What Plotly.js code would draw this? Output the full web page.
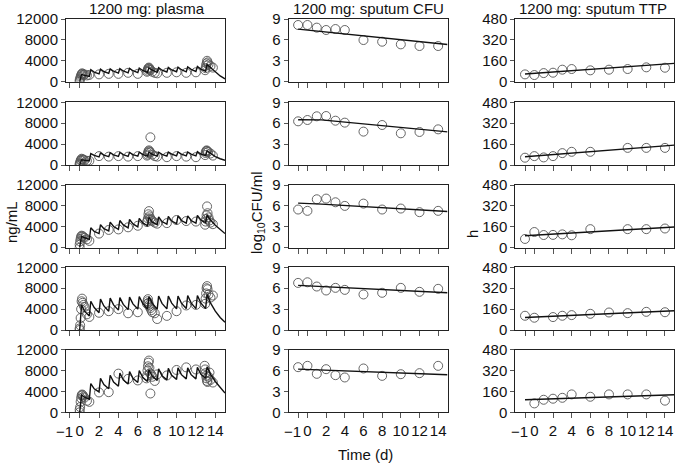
<!DOCTYPE html>
<html><head><meta charset="utf-8">
<script src="https://cdn.plot.ly/plotly-3.0.1.min.js"></script>
<style>html,body{margin:0;padding:0;background:#fff}#chart{width:675px;height:464px}</style>
</head><body><div id="chart"></div>
<script>
// ---------- DATA ----------
const colTitles = ["1200 mg: plasma", "1200 mg: sputum CFU", "1200 mg: sputum TTP"];
const xTickVals = [-1, 0, 2, 4, 6, 8, 10, 12, 14];
const xTickText = ["", "0", "2", "4", "6", "8", "10", "12", "14"];
const xFirstTickLabel = "\u22121";

// plasma model line (time, d)
const plasmaLineT = [0,0.2,0.5, 1,1.15,1.5, 2,2.15,2.5, 3,3.15,3.5, 4,4.15,4.5, 5,5.15,5.5, 6,6.15,6.5, 7,7.15,7.5, 8,8.15,8.5, 9,9.15,9.5, 10,10.15,10.5, 11,11.15,11.5, 12,12.15,12.5, 13,13.15,13.5, 14,14.5,15];
const plasmaLine1 = [0,1400,1200, 1000,2300,1850, 1500,2400,1950, 1600,2450,2000, 1650,2500,2050, 1700,2550,2100, 1750,2600,2150, 1800,2650,2200, 1800,2700,2200, 1850,2750,2250, 1900,2800,2300, 1900,2850,2350, 1950,2900,2400, 2000,3300,2700, 1800,1100,550];
const plasmaLine2 = [0,1000,900, 800,2200,1850, 1550,2300,1900, 1600,2350,1950, 1650,2400,2000, 1650,2400,2000, 1700,2450,2050, 1700,2450,2050, 1700,2450,2050, 1700,2500,2100, 1750,2500,2100, 1750,2500,2100, 1750,2550,2100, 1800,2700,2250, 1600,1200,900];
const plasmaLine3 = [0,2200,1900, 1600,3800,3100, 2700,4400,3650, 3200,4900,4050, 3500,5200,4350, 3800,5400,4550, 4000,5600,4750, 4200,5800,4900, 4400,5900,5000, 4500,6000,5100, 4600,6100,5200, 4700,6100,5200, 4700,6200,5300, 4800,6300,5300, 4300,3400,2700];
const plasmaLine4 = [0,4800,3600, 2700,5500,4300, 3300,5900,4600, 3600,6100,4800, 3800,6200,4900, 3900,6300,5000, 4000,6400,5100, 4000,6400,5100, 4000,6500,5100, 4050,6500,5150, 4050,6500,5150, 4100,6600,5200, 4100,6600,5200, 4100,6800,5200, 3600,2400,1500];
const plasmaLine5 = [0,3300,2900, 2500,5500,4500, 3900,6500,5300, 4500,7100,5800, 5000,7500,6200, 5400,7800,6500, 5700,8000,6700, 5900,8200,6900, 6100,8300,7000, 6200,8400,7100, 6300,8500,7200, 6400,8500,7200, 6400,8600,7300, 6500,8700,7300, 5900,4700,3700];

// plasma observations
const plasmaObsT1 = [0,0,0.05,0.1,0.15,0.2,0.25,0.3,0.4,0.5,0.75, 1,2,3,4,5,6, 6.95,7,7.05,7.1,7.15,7.2,7.25,7.3,7.5,7.75, 8,9,10,11,12, 12.95,13,13.05,13.1,13.15,13.2,13.3,13.5,13.75];
const plasmaObs1  = [0,300,600,900,1200,1400,1600,1500,1300,1400,1200, 1300,1400,1500,1500,1700,1500, 1900,2100,2400,2600,2700,2500,2300,2200,1900,1700, 1600,1700,1800,1700,1800, 2200,2600,3100,3500,4000,3700,3300,3000,2700];
const plasmaObsT2 = [0,0,0.05,0.1,0.15,0.2,0.3,0.4,0.5,0.75, 1,2,3,4,5,6, 6.95,7,7.05,7.1,7.15,7.2,7.3,7.3,7.5,7.75, 8,9,10,11,12, 12.95,13,13.05,13.1,13.15,13.25,13.5,13.75];
const plasmaObs2  = [0,200,500,800,1000,1200,1100,1000,900,800, 800,1700,1600,1700,1600,1700, 1800,2000,2300,2600,2800,2600,2400,5300,2000,1700, 1600,1500,1700,1600,1500, 1900,2300,2600,2800,2700,2500,2200,1800];
const plasmaObsT3 = [0,0,0.05,0.1,0.15,0.2,0.3,0.4,0.5,0.75, 1,2,3,4,5,6, 6.95,7,7.05,7.1,7.15,7.2,7.3,7.4,7.5,7.75, 8,9,10,11,12, 12.95,13,13.05,13.1,13.15,13.2,13.3,13.4,13.5,13.75];
const plasmaObs3  = [0,600,1200,1700,2100,2300,2200,2000,1900,1600, 1300,2700,3400,3500,3900,4200, 4900,5200,5600,6400,7000,6000,5600,5300,5100,4800, 4600,4700,5300,5100,5000, 4400,5000,5500,6200,7900,6600,5800,5200,4800,4500];
const plasmaObsT4 = [0,0,0.05,0.1,0.15,0.2,0.25,0.3,0.4,0.5,0.75, 1,2,3,4,5,6, 6.95,7,7.05,7.1,7.15,7.2,7.3,7.4,7.5,7.75, 8,9,10,11,12, 12.95,13,13.05,13.1,13.15,13.2,13.3,13.5,13.75];
const plasmaObs4  = [0,300,900,2300,4000,5500,6000,5200,4800,4400,3000, 2500,3300,3600,4000,3200,3400, 5000,5500,5900,5200,4800,4500,4200,3800,3400,3200, 2100,2700,3600,4700,4800, 5000,6000,7000,8000,8400,7800,6800,6200,6600];
const plasmaObsT5 = [0,0,0.05,0.1,0.15,0.2,0.25,0.3,0.4,0.5,0.75, 1,2,3,4,5,6, 6.9,6.95,7,7.05,7.1,7.15,7.2,7.25,7.3,7.4,7.5,7.75, 8,9,10,11,12, 12.9,12.95,13,13.05,13.1,13.15,13.2,13.3,13.4,13.5,13.75];
const plasmaObs5  = [0,500,1000,2000,2700,3200,3400,3300,3000,2800,2200, 2000,3800,3850,7400,6400,6100, 6500,7000,8000,8800,9500,9900,8500,7500,3600,7200,6800,6000, 7250,7050,8100,8600,8200, 8900,8200,7500,7000,6500,6000,5800,6800,7600,6200,5700];

// sputum CFU (log10 CFU/ml)
const cfuT = [-1,0,1,2,3,4,6,8,10,12,14];
const cfuObs1 = [8.14,8.14,7.76,7.42,7.56,7.42,5.98,5.74,5.36,5.12,5.12];
const cfuObs2 = [6.27,6.46,6.99,7.03,6.36,6.08,4.79,5.74,4.55,4.74,5.12];
const cfuObs3 = [5.48,5.29,6.95,7.05,6.52,6.00,6.33,5.48,5.62,5.10,5.29];
const cfuObs4 = [6.76,6.85,6.24,5.67,6.05,5.76,5.10,5.34,6.05,5.48,5.91];
const cfuObs5 = [6.48,6.67,5.52,6.19,5.33,5.00,6.29,5.23,5.47,5.62,6.67];
const cfuLineT = [-1, 1.5, 15];
const cfuLine1 = [7.55, 7.22, 5.35];
const cfuLine2 = [6.50, 6.48, 4.75];
const cfuLine3 = [6.40, 6.25, 5.20];
const cfuLine4 = [6.40, 6.22, 5.35];
const cfuLine5 = [6.20, 6.08, 5.40];

// sputum TTP (h)
const ttpT1 = [-1,0,1,2,3,4,6,8,10,12,14];
const ttpObs1 = [56,51,66,69,92,97,87,92,97,110,107];
const ttpT2 = [-1,0,1,2,3,4,6,10,12,14];
const ttpObs2 = [56,68,58,68,91,101,101,131,131,131];
const ttpT3 = [-1,0,1,2,3,4,6,10,12,14];
const ttpObs3 = [67,120,97,98,102,95,142,142,142,147];
const ttpT4 = [-1,0,2,3,4,6,8,10,12,14];
const ttpObs4 = [109,94,99,109,114,124,134,129,139,136];
const ttpT5 = [0,1,2,3,4,6,8,10,12,14];
const ttpObs5 = [68,96,104,111,137,119,137,137,137,89];
const ttpLineT = [-1, 15];
const ttpLine1 = [59, 140];
const ttpLine2 = [63, 152];
const ttpLine3 = [91, 158];
const ttpLine4 = [96, 147];
const ttpLine5 = [96, 134];

// ---------- LAYOUT ----------
const W = 675, H = 464;
const FONT = "Liberation Sans, Arial, Helvetica, sans-serif";
const colPx = [[66,225],[288.5,447.5],[515.3,674.3]];
const rowPx = [[19,81.7],[102.3,165],[185,247.7],[267.3,330],[349.6,412.3]];
const xRanges = [[-1.41,15],[-2.03,15],[-2.04,15]];
const yRanges = [[0,12000],[0,9],[0,480]];
const yTicks = [[0,4000,8000,12000],[0,3,6,9],[0,160,320,480]];

const panels = [
  [[plasmaObsT1,plasmaObs1,plasmaLineT,plasmaLine1],[cfuT,cfuObs1,cfuLineT,cfuLine1],[ttpT1,ttpObs1,ttpLineT,ttpLine1]],
  [[plasmaObsT2,plasmaObs2,plasmaLineT,plasmaLine2],[cfuT,cfuObs2,cfuLineT,cfuLine2],[ttpT2,ttpObs2,ttpLineT,ttpLine2]],
  [[plasmaObsT3,plasmaObs3,plasmaLineT,plasmaLine3],[cfuT,cfuObs3,cfuLineT,cfuLine3],[ttpT3,ttpObs3,ttpLineT,ttpLine3]],
  [[plasmaObsT4,plasmaObs4,plasmaLineT,plasmaLine4],[cfuT,cfuObs4,cfuLineT,cfuLine4],[ttpT4,ttpObs4,ttpLineT,ttpLine4]],
  [[plasmaObsT5,plasmaObs5,plasmaLineT,plasmaLine5],[cfuT,cfuObs5,cfuLineT,cfuLine5],[ttpT5,ttpObs5,ttpLineT,ttpLine5]]
];

const traces = [];
const layout = {
  width: W, height: H, margin: {l:0,r:0,t:0,b:0},
  paper_bgcolor: "#fff", plot_bgcolor: "#fff",
  showlegend: false, font: {family: FONT, size: 15, color: "#111"},
  annotations: []
};

for (let r = 0; r < 5; r++) {
  for (let c = 0; c < 3; c++) {
    const k = r*3 + c + 1;
    const xa = k === 1 ? "x" : "x" + k, ya = k === 1 ? "y" : "y" + k;
    const p = panels[r][c];
    traces.push({x: p[0], y: p[1], xaxis: xa, yaxis: ya, type: "scatter", mode: "markers",
      marker: {symbol: "circle-open", size: 9, color: "#555", line: {width: 0.9}}, cliponaxis: true, hoverinfo: "skip"});
    traces.push({x: p[2], y: p[3], xaxis: xa, yaxis: ya, type: "scatter", mode: "lines",
      line: {color: "#111", width: 1.4}, cliponaxis: true, hoverinfo: "skip"});
    const xax = {
      domain: [colPx[c][0]/W, colPx[c][1]/W], range: xRanges[c], anchor: ya,
      showgrid: false, zeroline: false, showline: true, mirror: true, linecolor: "#222", linewidth: 1,
      ticks: "outside", ticklen: 5, tickcolor: "#555", tickwidth: 1,
      tickmode: "array", tickvals: xTickVals, ticktext: xTickText, tickangle: 0,
      showticklabels: r === 4, fixedrange: true
    };
    if (r === 4) {
      xax.tickfont = {family: FONT, size: 15, color: "#111"};
      // the "−1" label sits just left of its tick so that it does not collide with "0"
      layout.annotations.push({text: xFirstTickLabel, x: xTickVals[0], xref: xa, y: 1 - 431/H, yref: "paper",
        xanchor: "right", yanchor: "middle", xshift: 5, showarrow: false,
        font: {family: FONT, size: 15, color: "#111"}});
    }
    layout["xaxis" + (k===1?"":k)] = xax;
    layout["yaxis" + (k===1?"":k)] = {
      domain: [1 - rowPx[r][1]/H, 1 - rowPx[r][0]/H], range: yRanges[c], anchor: xa,
      showgrid: false, zeroline: false, showline: true, mirror: true, linecolor: "#222", linewidth: 1,
      ticks: "outside", ticklen: 4, tickcolor: "#555", tickwidth: 1, tickangle: 0,
      tickmode: "array", tickvals: yTicks[c], ticktext: yTicks[c].map(String),
      tickfont: {family: FONT, size: 15, color: "#111"}, fixedrange: true
    };
  }
}

const titleX = [146.5, 368.3, 592.7];
for (let c = 0; c < 3; c++) {
  layout.annotations.push({text: colTitles[c], x: titleX[c]/W, y: 1 - 9/H, xref: "paper", yref: "paper",
    xanchor: "center", yanchor: "middle", showarrow: false, font: {family: FONT, size: 15, color: "#111"}});
}
const yTitles = [["ng/mL", 11, 222], ["log<sub>10</sub>CFU/ml", 257, 213], ["h", 472, 234]];
for (const [t, px, py] of yTitles) {
  layout.annotations.push({text: t, x: px/W, y: 1 - py/H, xref: "paper", yref: "paper", textangle: -90,
    xanchor: "center", yanchor: "middle", showarrow: false, font: {family: FONT, size: 15, color: "#111"}});
}
layout.annotations.push({text: "Time (d)", x: 365/W, y: 1 - 454/H, xref: "paper", yref: "paper",
  xanchor: "center", yanchor: "middle", showarrow: false, font: {family: FONT, size: 15, color: "#111"}});

Plotly.newPlot("chart", traces, layout, {staticPlot: true, displayModeBar: false});
</script></body></html>
